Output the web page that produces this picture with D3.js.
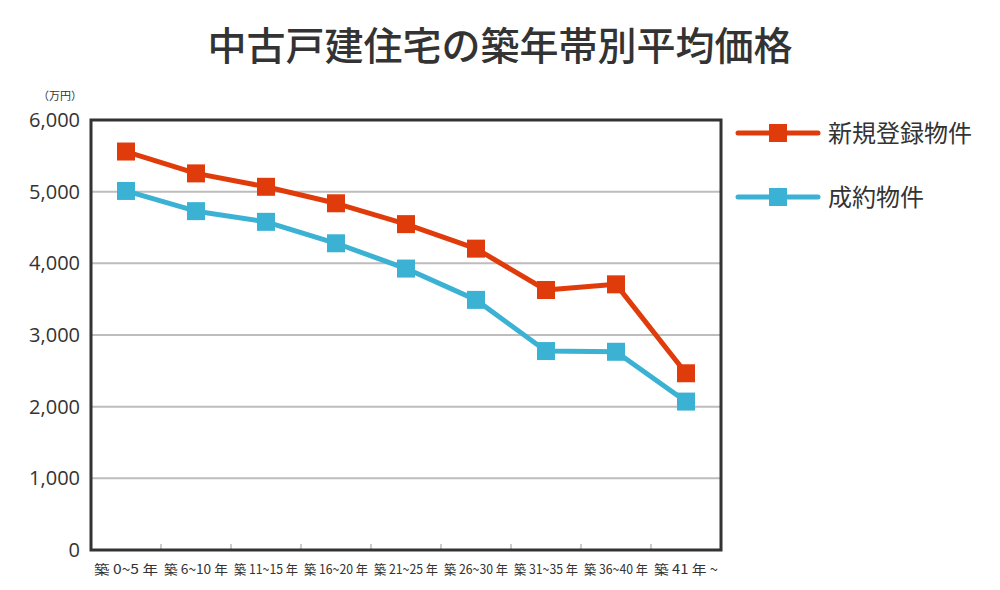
<!DOCTYPE html>
<html><head><meta charset="utf-8">
<script src="https://cdn.jsdelivr.net/npm/d3@7"></script>
<style>body{margin:0;background:#fff;}svg{display:block;font-family:"Noto Sans CJK JP","Noto Sans",sans-serif;}</style>
</head><body><svg id="c" width="1000" height="590"></svg>
<script>
const categories = ["築 0~5 年","築 6~10 年","築 11~15 年","築 16~20 年","築 21~25 年","築 26~30 年","築 31~35 年","築 36~40 年","築 41 年 ~"];
const newListings = [5560, 5255, 5068, 4838, 4547, 4205, 3628, 3707, 2466];
const contracts = [5010, 4728, 4579, 4280, 3927, 3490, 2776, 2766, 2071];
const seriesNames = ["新規登録物件", "成約物件"];
const yTicks = [0, 1000, 2000, 3000, 4000, 5000, 6000];
const colors = ["#e03c0b", "#3bb2d4"];

const svg = d3.select("#c");
const L = 91, R = 721, T = 120, B = 550;
const x = d3.scaleBand().domain(categories).range([L, R]);
const y = d3.scaleLinear().domain([0, 6000]).range([B, T]);

svg.append("text").attr("x", 500).attr("y", 60).attr("text-anchor", "middle")
  .attr("font-size", 39).attr("font-weight", 500).attr("fill", "#333").text("中古戸建住宅の築年帯別平均価格");

// gridlines
svg.append("g").selectAll("line").data(yTicks.filter(d => d > 0 && d < 6000)).join("line")
  .attr("x1", L).attr("x2", R).attr("y1", d => y(d)).attr("y2", d => y(d))
  .attr("stroke", "#bdbdbd").attr("stroke-width", 2);

// x ticks (band boundaries)
svg.append("g").selectAll("line").data(categories.slice(1)).join("line")
  .attr("x1", d => x(d)).attr("x2", d => x(d)).attr("y1", B - 6).attr("y2", B)
  .attr("stroke", "#bbb").attr("stroke-width", 1.5);

// frame
svg.append("rect").attr("x", L).attr("y", T).attr("width", R - L).attr("height", B - T)
  .attr("fill", "none").attr("stroke", "#333").attr("stroke-width", 3);

// y labels
svg.append("g").selectAll("text").data(yTicks).join("text")
  .attr("x", 80).attr("y", d => y(d) + 7).attr("text-anchor", "end")
  .attr("font-size", 20).attr("fill", "#333").attr("font-family", "'Open Sans',sans-serif")
  .text(d => d3.format(",")(d));
svg.append("text").attr("x", 60).attr("y", 100).attr("text-anchor", "middle")
  .attr("font-size", 11).attr("fill", "#333").text("（万円）");

// x labels
svg.append("g").selectAll("text").data(categories).join("text")
  .attr("x", d => x(d) + x.bandwidth() / 2).attr("y", 574).attr("text-anchor", "middle")
  .attr("font-size", 13).attr("fill", "#333").attr("textLength", 64).attr("lengthAdjust", "spacingAndGlyphs")
  .text(d => d);

const line = d3.line().x((d, i) => x(categories[i]) + x.bandwidth() / 2).y(d => y(d));
[newListings, contracts].forEach((s, k) => {
  svg.append("path").datum(s).attr("d", line).attr("fill", "none")
    .attr("stroke", colors[k]).attr("stroke-width", 5).attr("stroke-linejoin", "round");
  svg.append("g").selectAll("rect").data(s).join("rect")
    .attr("x", (d, i) => x(categories[i]) + x.bandwidth() / 2 - 9)
    .attr("y", d => y(d) - 9).attr("width", 18).attr("height", 18).attr("fill", colors[k]);
});

// legend
seriesNames.forEach((n, k) => {
  const ly = 133 + k * 64;
  svg.append("line").attr("x1", 738).attr("x2", 818).attr("y1", ly).attr("y2", ly)
    .attr("stroke", colors[k]).attr("stroke-width", 5).attr("stroke-linecap", "round");
  svg.append("rect").attr("x", 769).attr("y", ly - 9).attr("width", 18).attr("height", 18).attr("fill", colors[k]);
  svg.append("text").attr("x", 828).attr("y", ly + 9).attr("font-size", 24).attr("fill", "#333").text(n);
});
</script></body></html>
